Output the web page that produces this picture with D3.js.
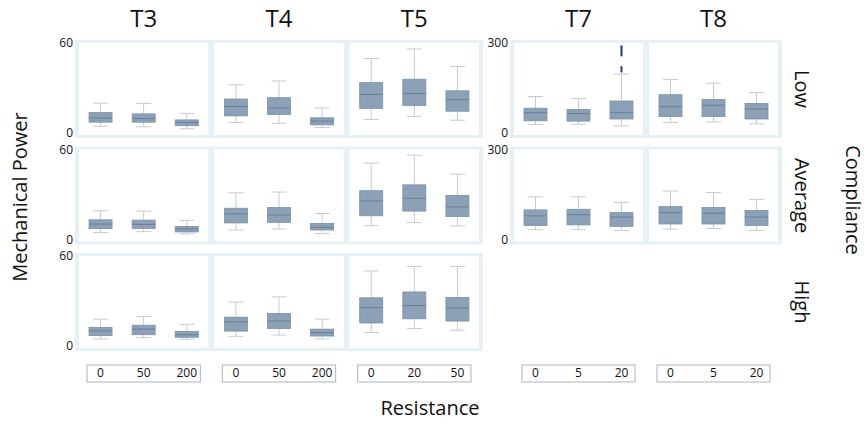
<!DOCTYPE html>
<html>
<head>
<meta charset="utf-8">
<script src="https://cdn.jsdelivr.net/npm/d3@7"></script>
<style>
  body { margin: 0; background: #fff; }
  text { font-family: "Open Sans", "DejaVu Sans", sans-serif; fill: #111; }
</style>
</head>
<body>
<svg width="867" height="423"></svg>
<script>
// column facets (treatment) and their resistance levels
var columns = ["T3", "T4", "T5", "T7", "T8"];
var resistance = [["0", "50", "200"], ["0", "50", "200"], ["0", "20", "50"], ["0", "5", "20"], ["0", "5", "20"]];
var yMax = [60, 60, 60, 300, 300];
var compliance = ["Low", "Average", "High"];

// [lower whisker, q1, median, q3, upper whisker] per column, per resistance level
var lowStats = [
  [[5.1, 7.9, 10.7, 14.3, 20.6], [4.8, 7.9, 10.3, 13.4, 20.4], [3.5, 5.5, 7.7, 9.4, 13.8]],
  [[7.7, 12.1, 18.3, 23.3, 32.8], [7.1, 13.0, 17.4, 24.2, 35.4], [4.4, 6.1, 8.6, 10.8, 17.4]],
  [[9.7, 17.1, 26.4, 34.3, 50.3], [11.7, 18.9, 27.0, 36.5, 56.7], [9.2, 15.2, 22.9, 28.8, 45.0]],
  [[32, 44, 71, 86, 125], [32, 43, 68, 82, 118], [27, 50, 71, 110, 200]],
  [[38, 58, 91, 131, 182], [40, 58, 96, 115, 169], [34, 50, 83, 102, 138]]
];
var averageStats = [
  [[5.3, 7.9, 11.0, 13.8, 19.8], [5.9, 8.1, 10.8, 13.6, 19.6], [4.4, 5.7, 7.7, 9.4, 13.4]],
  [[7.0, 11.7, 17.8, 21.5, 31.8], [7.7, 12.1, 16.9, 22.0, 32.3], [4.6, 7.0, 8.8, 11.4, 18.0]],
  [[9.9, 16.5, 26.4, 33.2, 51.6], [11.9, 19.6, 28.1, 37.1, 56.9], [9.7, 16.0, 22.4, 30.1, 44.2]],
  [[36, 50, 82, 102, 146], [36, 52, 86, 104, 146], [33, 47, 78, 93, 127]],
  [[38, 55, 93, 113, 165], [40, 55, 91, 110, 160], [34, 50, 78, 100, 137]]
];
var highStats = [
  [[5.4, 7.6, 10.8, 13.1, 18.6], [6.2, 8.2, 11.9, 14.5, 20.3], [5.2, 6.5, 8.2, 10.4, 15.1]],
  [[7.1, 10.6, 16.8, 19.9, 30.0], [8.0, 12.3, 17.3, 22.4, 33.4], [5.4, 7.3, 9.5, 11.9, 18.6]],
  [[9.7, 16.0, 26.3, 32.8, 50.7], [12.3, 18.8, 27.6, 36.7, 53.7], [11.2, 17.3, 25.9, 33.0, 53.7]]
];
// outliers: Low compliance, T7, resistance 20
var outliersT7Low = [208, 213, 218, 223, 262, 267, 272, 277, 282, 287, 292];

var rows = [lowStats, averageStats, highStats];

var svg = d3.select("svg");

var frameColor = "#e5f1f5",
    boxFill = "#8ca1b7",
    boxStroke = "#7a90a7",
    medianColor = "#687f98",
    whiskerColor = "#c3ccd6";

// two panel groups: T3-T5 and T7-T8
var groups = [
  {cols: [0, 1, 2], x0: 75, x1: 483},
  {cols: [3, 4], x0: 510, x1: 782}
];
var pad = 4, gutter = 6, rowTop0 = 40, rowStep = 106.5, frameH = 98;

var panelX = {};
groups.forEach(function(g) {
  var w = (g.x1 - g.x0 - 2 * pad - gutter * (g.cols.length - 1)) / g.cols.length;
  g.cols.forEach(function(c, i) {
    panelX[c] = {x: g.x0 + pad + i * (w + gutter), w: w};
  });
});

rows.forEach(function(stats, r) {
  var top = rowTop0 + r * rowStep;
  groups.forEach(function(g) {
    var present = g.cols.filter(function(c) { return stats[c]; });
    if (!present.length) return;
    svg.append("rect")
      .attr("x", g.x0).attr("y", top)
      .attr("width", g.x1 - g.x0).attr("height", frameH)
      .attr("fill", frameColor);

    var y = d3.scaleLinear().domain([0, yMax[g.cols[0]]]).range([top + frameH - 4, top + 4]);
    svg.append("text").attr("x", g.x0 - 2).attr("y", y(0))
      .attr("text-anchor", "end").attr("dominant-baseline", "middle")
      .style("font-size", "12px").text("0");
    svg.append("text").attr("x", g.x0 - 2).attr("y", y(yMax[g.cols[0]]))
      .attr("text-anchor", "end").attr("dominant-baseline", "middle")
      .style("font-size", "12px").text(yMax[g.cols[0]]);

    present.forEach(function(c) {
      var p = panelX[c];
      svg.append("rect")
        .attr("x", p.x).attr("y", top + 3)
        .attr("width", p.w).attr("height", frameH - 6)
        .attr("fill", "#fff");

      var x = d3.scalePoint().domain(resistance[c]).range([p.x, p.x + p.w]).padding(0.5);
      var bw = 23, cw = 15;

      var box = svg.append("g").selectAll("g")
        .data(stats[c].map(function(s, i) { return {level: resistance[c][i], s: s}; }))
        .enter().append("g")
        .attr("transform", function(d) { return "translate(" + x(d.level) + ",0)"; });

      box.append("line").attr("x1", 0).attr("x2", 0)
        .attr("y1", function(d) { return y(d.s[0]); })
        .attr("y2", function(d) { return y(d.s[4]); })
        .attr("stroke", whiskerColor).attr("stroke-width", 1);
      box.append("line").attr("x1", -cw / 2).attr("x2", cw / 2)
        .attr("y1", function(d) { return y(d.s[0]); })
        .attr("y2", function(d) { return y(d.s[0]); })
        .attr("stroke", whiskerColor);
      box.append("line").attr("x1", -cw / 2).attr("x2", cw / 2)
        .attr("y1", function(d) { return y(d.s[4]); })
        .attr("y2", function(d) { return y(d.s[4]); })
        .attr("stroke", whiskerColor);
      box.append("rect")
        .attr("x", -bw / 2).attr("width", bw)
        .attr("y", function(d) { return y(d.s[3]); })
        .attr("height", function(d) { return y(d.s[1]) - y(d.s[3]); })
        .attr("fill", boxFill).attr("stroke", boxStroke).attr("stroke-width", 0.8);
      box.append("line").attr("x1", -bw / 2).attr("x2", bw / 2)
        .attr("y1", function(d) { return y(d.s[2]); })
        .attr("y2", function(d) { return y(d.s[2]); })
        .attr("stroke", medianColor).attr("stroke-width", 1);

      if (r === 0 && c === 3) {
        svg.append("g").selectAll("circle")
          .data(outliersT7Low)
          .enter().append("circle")
          .attr("cx", x("20"))
          .attr("cy", function(d) { return y(d); })
          .attr("r", 1.1)
          .attr("fill", "#22386a");
      }
    });
  });

  // row label
  var cy = top + frameH / 2;
  svg.append("text")
    .attr("transform", "translate(795," + cy + ") rotate(90)")
    .attr("text-anchor", "middle")
    .style("font-size", "20px")
    .text(compliance[r]);
});

// column titles and resistance boxes
columns.forEach(function(name, c) {
  var p = panelX[c];
  svg.append("text")
    .attr("x", p.x + p.w / 2).attr("y", 27)
    .attr("text-anchor", "middle")
    .style("font-size", "24px")
    .text(name);

  svg.append("rect")
    .attr("x", p.x + 8).attr("y", 365)
    .attr("width", p.w - 16).attr("height", 17)
    .attr("fill", "#fff").attr("stroke", "#a9b4c2").attr("stroke-width", 1);

  var x = d3.scalePoint().domain(resistance[c]).range([p.x, p.x + p.w]).padding(0.5);
  svg.append("g").selectAll("text")
    .data(resistance[c])
    .enter().append("text")
    .attr("x", function(d) { return x(d); })
    .attr("y", 374)
    .attr("text-anchor", "middle")
    .attr("dominant-baseline", "middle")
    .style("font-size", "12px")
    .text(function(d) { return d; });
});

svg.append("text")
  .attr("transform", "translate(27,197) rotate(-90)")
  .attr("text-anchor", "middle")
  .style("font-size", "20px")
  .text("Mechanical Power");

svg.append("text")
  .attr("x", 430).attr("y", 415)
  .attr("text-anchor", "middle")
  .style("font-size", "20px")
  .text("Resistance");

svg.append("text")
  .attr("transform", "translate(846,200) rotate(90)")
  .attr("text-anchor", "middle")
  .style("font-size", "20px")
  .text("Compliance");
</script>
</body>
</html>
